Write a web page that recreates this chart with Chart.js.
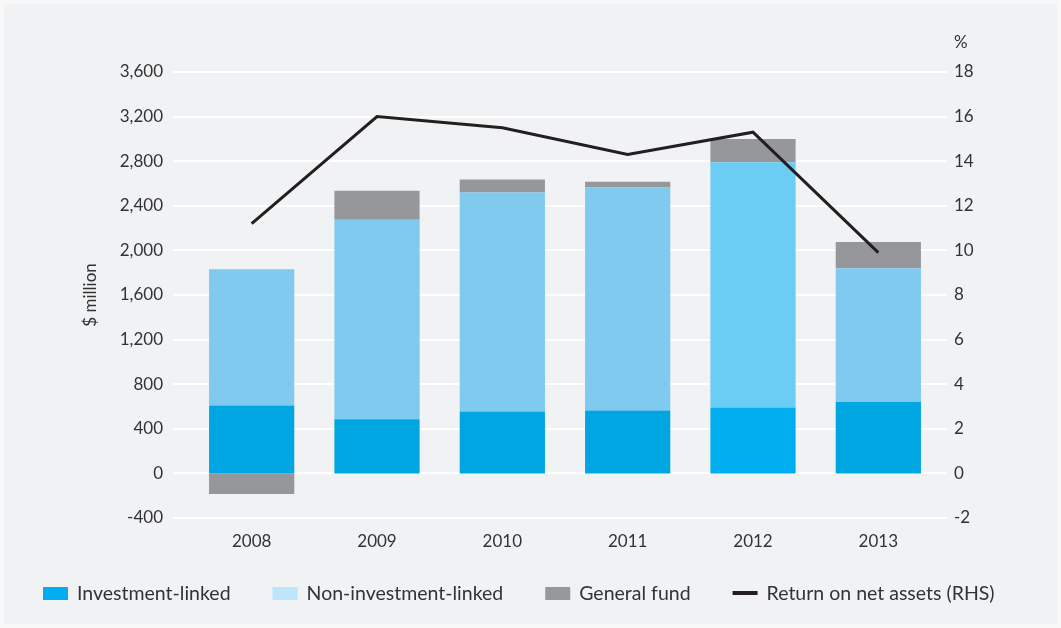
<!DOCTYPE html>
<html>
<head>
<meta charset="utf-8">
<script src="https://cdn.jsdelivr.net/npm/chart.js@4.4.1/dist/chart.umd.min.js"></script>
<style>
  html, body { margin: 0; padding: 0; background: #f8f8f9; }
  #wrap {
    position: relative; width: 1061px; height: 628px;
    background: #f1f2f4;
    box-shadow: inset 0 0 0 4px #f8f8f9;
  }
  canvas { display: block; }
</style>
</head>
<body>
<div id="wrap"><canvas id="chart" width="1061" height="628"></canvas></div>
<script>
// Years on the category axis
const years = ['2008', '2009', '2010', '2011', '2012', '2013'];

// Stacked components, $ million
const investmentLinked = [610, 485, 555, 565, 590, 640];
const nonInvestmentLinked = [1220, 1790, 1965, 2000, 2200, 1200];
const generalFund = [-185, 260, 115, 50, 210, 235];

// Return on net assets, % (right-hand scale)
const returnOnNetAssets = [11.2, 16.0, 15.5, 14.3, 15.3, 9.9];

// Axis ranges and steps
const leftTicks = { min: -400, max: 3600, step: 400 };
const rightTicks = { min: -2, max: 18, step: 2 };
const rightUnit = '%';

const seriesNames = ['Investment-linked', 'Non-investment-linked', 'General fund', 'Return on net assets (RHS)'];

const FONT = 'Lato, "Open Sans", sans-serif';
const TEXT = '#333333';

// Bar fills (2012 printed in a brighter tint)
const invColors = ['#00a6e2', '#00a6e2', '#00a6e2', '#00a6e2', '#00aeef', '#00a6e2'];
const nonInvColors = ['#80c9ef', '#80c9ef', '#80c9ef', '#80c9ef', '#6bcdf4', '#80c9ef'];
const gfColor = '#96979b';
const lineColor = '#231f20';

// Legend swatches
const legendSwatches = [
  { type: 'box', color: '#00aeef' },
  { type: 'box', color: '#bde6fa' },
  { type: 'box', color: '#97989c' },
  { type: 'line', color: lineColor }
];

// Single-row legend along the bottom edge, plus the unit label above the right axis
const chartDecor = {
  id: 'chartDecor',
  afterDraw(chart) {
    const ctx = chart.ctx;
    ctx.save();
    ctx.textAlign = 'left';
    ctx.textBaseline = 'middle';
    ctx.fillStyle = TEXT;
    ctx.font = '17px ' + FONT;
    const r = chart.scales.y1;
    ctx.fillText(rightUnit, r.left + 13, 43);

    ctx.font = '19.5px ' + FONT;
    ctx.textBaseline = 'alphabetic';
    let x = 43;
    const baseline = 600;
    chart.data.datasets.forEach((ds, i) => {
      const sw = legendSwatches[i];
      ctx.fillStyle = sw.color;
      if (sw.type === 'box') {
        ctx.fillRect(x, 587, 25, 13);
      } else {
        ctx.fillRect(x, 591, 25, 4);
      }
      ctx.fillStyle = TEXT;
      ctx.fillText(ds.label, x + 34, baseline);
      x += 34 + ctx.measureText(ds.label).width + 42;
    });
    ctx.restore();
  }
};

const fmt = v => Number(v).toLocaleString('en-US');

new Chart(document.getElementById('chart'), {
  data: {
    labels: years,
    datasets: [
      { type: 'bar', label: seriesNames[0], data: investmentLinked, backgroundColor: invColors, yAxisID: 'yBars', order: 1, borderWidth: 0 },
      { type: 'bar', label: seriesNames[1], data: nonInvestmentLinked, backgroundColor: nonInvColors, yAxisID: 'yBars', order: 1, borderWidth: 0 },
      { type: 'bar', label: seriesNames[2], data: generalFund, backgroundColor: gfColor, yAxisID: 'yBars', order: 1, borderWidth: 0 },
      { type: 'line', label: seriesNames[3], data: returnOnNetAssets, yAxisID: 'y1', order: 0,
        borderColor: lineColor, borderWidth: 3, borderJoinStyle: 'miter', tension: 0,
        pointRadius: 0, fill: false }
    ]
  },
  options: {
    responsive: false,
    animation: false,
    devicePixelRatio: 1,
    categoryPercentage: 0.68,
    barPercentage: 1,
    layout: { padding: { left: 0, right: 75, top: 72, bottom: 70 } },
    plugins: {
      legend: { display: false },
      tooltip: { enabled: false }
    },
    scales: {
      x: {
        stacked: true,
        grid: { display: false },
        border: { display: false },
        ticks: { color: TEXT, font: { family: FONT, size: 17 }, padding: 5 },
        afterFit: s => { s.height = 40; }
      },
      // visible $ million axis: labels and white gridlines
      y: {
        position: 'left',
        min: leftTicks.min, max: leftTicks.max,
        ticks: { stepSize: leftTicks.step, color: TEXT, font: { family: FONT, size: 17 }, padding: 10, callback: fmt },
        grid: { color: '#ffffff', lineWidth: 2, tickLength: 16, tickColor: '#ffffff' },
        border: { display: false },
        title: { display: true, text: '$ million', color: TEXT, font: { family: FONT, size: 17 }, padding: { top: 80, bottom: 0 } },
        afterFit: s => { s.width = 189; }
      },
      // same range, carries the stacked bars
      yBars: {
        display: false,
        stacked: true,
        min: leftTicks.min, max: leftTicks.max
      },
      y1: {
        position: 'right',
        min: rightTicks.min, max: rightTicks.max,
        ticks: { stepSize: rightTicks.step, color: TEXT, font: { family: FONT, size: 17 }, padding: 7 },
        grid: { drawOnChartArea: false, color: '#ffffff', lineWidth: 2, tickLength: 6, tickColor: '#ffffff' },
        border: { display: false },
        afterFit: s => { s.width = 45; }
      }
    }
  },
  plugins: [chartDecor]
});
</script>
</body>
</html>
